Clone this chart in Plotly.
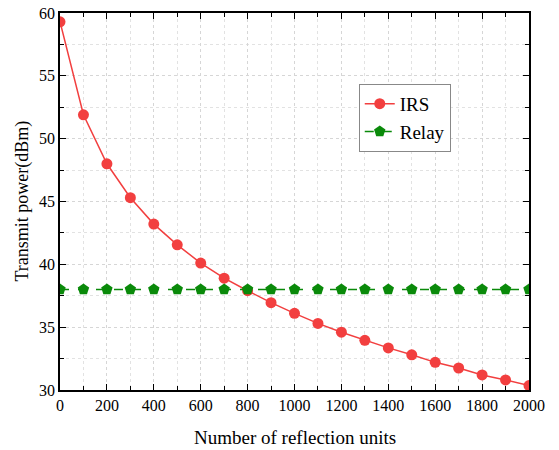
import plotly.graph_objects as go

units = [0, 100, 200, 300, 400, 500, 600, 700, 800, 900, 1000,
         1100, 1200, 1300, 1400, 1500, 1600, 1700, 1800, 1900, 2000]
irs_power = [59.3, 51.9, 48.0, 45.3, 43.2, 41.55, 40.1, 38.9, 37.9, 36.95, 36.1,
             35.3, 34.6, 33.95, 33.35, 32.8, 32.2, 31.75, 31.2, 30.8, 30.35]
relay_power = [38.0] * len(units)

x_ticks = [0, 200, 400, 600, 800, 1000, 1200, 1400, 1600, 1800, 2000]
y_ticks = [30, 35, 40, 45, 50, 55, 60]

x_title = "Number of reflection units"
y_title = "Transmit power(dBm)"

font_family = "Liberation Serif, Times New Roman, serif"

fig = go.Figure()
fig.add_trace(go.Scatter(
    x=units, y=irs_power, name="IRS", mode="lines+markers",
    line=dict(color="#f23f3f", width=1.5),
    marker=dict(symbol="circle", size=11, color="#f23f3f"),
))
fig.add_trace(go.Scatter(
    x=units, y=relay_power, name="Relay", mode="lines+markers",
    line=dict(color="#0a8a0a", width=1.5, dash="dash"),
    marker=dict(symbol="pentagon", size=12, color="#0a8a0a"),
))

axis_common = dict(
    showline=True, linecolor="black", linewidth=1.5, mirror="allticks",
    ticks="inside", ticklen=6, tickwidth=1.2, tickcolor="black",
    showgrid=True, gridcolor="#d6d6d6", griddash="dot", gridwidth=1,
    zeroline=False, automargin=False,
    tickfont=dict(family=font_family, size=16, color="black"),
)

fig.update_xaxes(
    range=[0, 2000], tickvals=x_ticks,
    minor=dict(dtick=100, ticks="inside", ticklen=4, tickcolor="black", showgrid=True,
               gridcolor="#e2e2e2", griddash="dot"),
    **axis_common,
)
fig.update_yaxes(
    range=[30, 60], tickvals=y_ticks,
    minor=dict(dtick=2.5, ticks="inside", ticklen=4, tickcolor="black", showgrid=True,
               gridcolor="#e2e2e2", griddash="dot"),
    **axis_common,
)

fig.add_annotation(
    text=x_title, xref="paper", yref="paper", x=0.5, y=-0.125,
    xanchor="center", yanchor="middle", showarrow=False,
    font=dict(family=font_family, size=19, color="black"),
)
fig.add_annotation(
    text=y_title, xref="paper", yref="paper", x=-0.081, y=0.5,
    xanchor="center", yanchor="middle", showarrow=False, textangle=-90,
    font=dict(family=font_family, size=18, color="black"),
)

fig.update_layout(
    width=559, height=450,
    margin=dict(l=60, r=30, t=13, b=60),
    plot_bgcolor="white", paper_bgcolor="white",
    font=dict(family=font_family, color="black"),
    legend=dict(
        x=0.637, y=0.812, xanchor="left", yanchor="top",
        bgcolor="white", bordercolor="#888888", borderwidth=1,
        font=dict(family=font_family, size=19, color="black"),
        tracegroupgap=0,
    ),
    showlegend=True,
)

fig.write_html("out.html")
